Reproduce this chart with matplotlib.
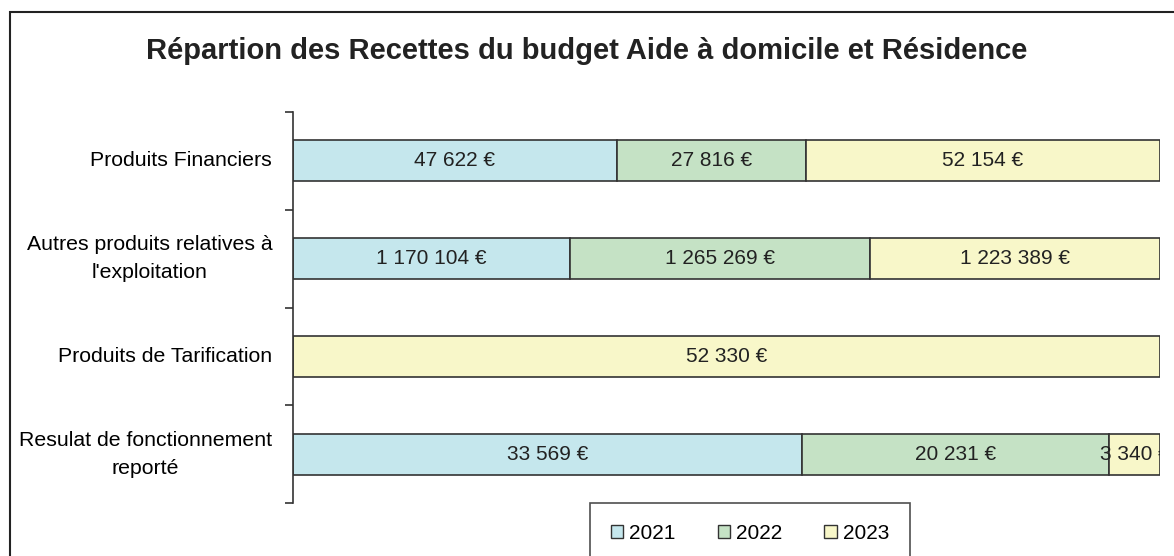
import matplotlib.pyplot as plt
from matplotlib.patches import Rectangle

plt.rcParams['font.family'] = ['Liberation Sans', 'DejaVu Sans']

# Data
categories = ["Produits Financiers",
              "Autres produits relatives à\nl'exploitation",
              "Produits de Tarification",
              "Resulat de fonctionnement\nreporté"]
years = ["2021", "2022", "2023"]
values_2021 = [47622, 1170104, 0, 33569]
values_2022 = [27816, 1265269, 0, 20231]
values_2023 = [52154, 1223389, 52330, 3340]
colors = ["#C5E7ED", "#C5E2C5", "#F8F7C9"]


def fmt_euro(v):
    return f"{v:,}".replace(",", " ") + " €"


fig = plt.figure(figsize=(11.74, 5.56), dpi=100)
ax = fig.add_axes([293 / 1174, 1 - 503 / 556, (1160 - 293) / 1174, (503 - 112) / 556])

# outer chart frame (cropped at right/bottom)
fig.patches.append(Rectangle((10 / 1174, -0.2), 1.2, 1 - 12 / 556 + 0.2,
                             transform=fig.transFigure, fill=False,
                             edgecolor="#222222", linewidth=1.5, zorder=0))

series = [values_2021, values_2022, values_2023]
totals = [sum(s[i] for s in series) for i in range(len(categories))]
left = [0.0] * len(categories)
ypos = list(range(len(categories)))
for year, vals, col in zip(years, series, colors):
    shares = [v / t for v, t in zip(vals, totals)]
    ax.barh(ypos, shares, left=left, height=0.42, color=col,
            edgecolor="#333333", linewidth=1.2, label=year)
    for i, (v, s) in enumerate(zip(vals, shares)):
        if v > 0:
            ax.text(left[i] + s / 2, i, fmt_euro(v), ha="center", va="center",
                    fontsize=15, color="#222222", clip_on=True)
    left = [l + s for l, s in zip(left, shares)]

ax.set_xlim(0, 1.0)
ax.set_ylim(3.5, -0.5)
ax.set_yticks([-0.5, 0.5, 1.5, 2.5, 3.5])
ax.set_yticklabels([])
ax.tick_params(axis="y", direction="out", length=6, width=1.2, color="#333333")
ax.set_yticks(ypos, minor=True)
ax.set_yticklabels(categories, minor=True, fontsize=15.3, multialignment="center",
                   linespacing=1.6, va="center")
ax.tick_params(axis="y", which="minor", length=0, pad=15)
ax.set_xticks([])
for side in ["top", "right", "bottom"]:
    ax.spines[side].set_visible(False)
ax.spines["left"].set_color("#333333")
ax.spines["left"].set_linewidth(1.2)

fig.text(0.5, 1 - 51 / 556, "Répartion des Recettes du budget Aide à domicile et Résidence",
         ha="center", va="center", fontsize=21, fontweight="bold", color="#222222")

leg = fig.legend(loc="upper center", bbox_to_anchor=(750 / 1174, 1 - 503 / 556),
                 ncol=3, fontsize=15, frameon=True, fancybox=False,
                 handlelength=0.6, handleheight=0.6, handletextpad=0.3,
                 columnspacing=2.0, borderpad=1.0, borderaxespad=0)
leg.get_frame().set_edgecolor("#222222")
leg.get_frame().set_linewidth(1.2)
for h in leg.legend_handles:
    h.set_edgecolor("#333333")
    h.set_linewidth(1.0)

fig.savefig("out.png", dpi=100)
